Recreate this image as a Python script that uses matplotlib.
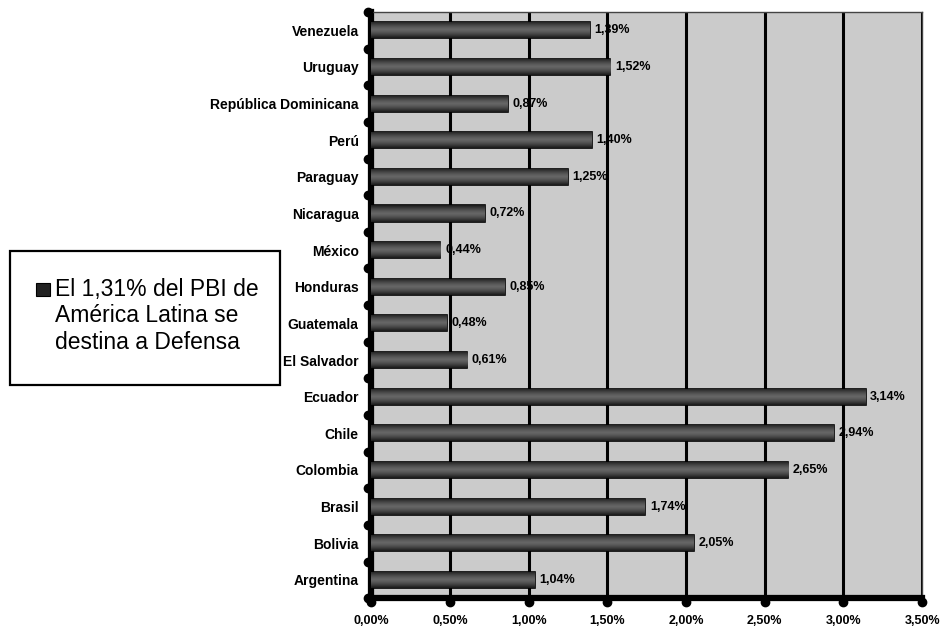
import numpy as np
import matplotlib.pyplot as plt
from matplotlib.patches import Rectangle

plt.rcParams['font.family'] = ['Liberation Sans', 'DejaVu Sans']

# data, bottom to top as drawn
countries = ['Argentina', 'Bolivia', 'Brasil', 'Colombia', 'Chile', 'Ecuador',
             'El Salvador', 'Guatemala', 'Honduras', 'México', 'Nicaragua',
             'Paraguay', 'Perú', 'República Dominicana', 'Uruguay', 'Venezuela']
values = [1.04, 2.05, 1.74, 2.65, 2.94, 3.14, 0.61, 0.48, 0.85, 0.44, 0.72,
          1.25, 1.40, 0.87, 1.52, 1.39]
xticks = [0.0, 0.5, 1.0, 1.5, 2.0, 2.5, 3.0, 3.5]
legend_text = 'El 1,31% del PBI de\nAmérica Latina se\ndestina a Defensa'


def pct(v):
    return ('%.2f%%' % v).replace('.', ',')


fig = plt.figure(figsize=(9.42, 6.31), dpi=100)
ax = fig.add_axes([0.394, 0.052, 0.585, 0.929])
ax.set_facecolor('#cbcbcb')

y = np.arange(len(countries))
bar_h = 0.44
bars = ax.barh(y, values, height=bar_h, color='#222222', edgecolor='black',
               linewidth=1.2, zorder=3)

# gradient fill: dark edges, lighter band in the middle
t = np.abs(np.linspace(-1, 1, 64)) ** 1.4
grad = (0.40 - 0.30 * t).reshape(-1, 1) * np.ones((1, 8))
for b, v, yy in zip(bars, values, y):
    im = ax.imshow(grad, cmap='gray', vmin=0, vmax=1, aspect='auto',
                   extent=[0, v, yy - bar_h / 2, yy + bar_h / 2], zorder=3.5,
                   interpolation='bilinear')
    im.set_clip_path(b)
    ax.text(v + 0.03, yy, pct(v), va='center', ha='left', fontsize=9,
            fontweight='bold', zorder=5)

ax.set_xlim(0, 3.5)
ax.set_ylim(-0.5, len(countries) - 0.5)

ax.set_xticks(xticks)
ax.set_xticklabels([pct(t) for t in xticks], fontsize=9, fontweight='bold')
ax.set_yticks(y)
ax.set_yticklabels(countries, fontsize=10, fontweight='bold')
ax.tick_params(axis='y', length=0, pad=9)
ax.tick_params(axis='x', length=0, pad=12)

ax.grid(axis='x', color='black', linewidth=2.2, zorder=1)
ax.set_axisbelow(True)

for side in ['top', 'right']:
    ax.spines[side].set_linewidth(1.0)
    ax.spines[side].set_color('#444444')
ax.spines['left'].set_linewidth(4.5)
ax.spines['bottom'].set_linewidth(4.5)

# round tick marks on the axes
bounds = np.arange(-0.5, len(countries))
ax.plot(np.zeros(len(bounds)) - 0.018, bounds, 'o', color='black', ms=6,
        clip_on=False, zorder=6)
ax.plot(xticks, np.zeros(len(xticks)) - 0.5 - 0.1, 'o', color='black', ms=6,
        clip_on=False, zorder=6)

# legend box
fig.patches.append(Rectangle((0.011, 0.39), 0.286, 0.213, transform=fig.transFigure,
                             facecolor='white', edgecolor='black', linewidth=1.6))
fig.patches.append(Rectangle((0.038, 0.531), 0.015, 0.021, transform=fig.transFigure,
                             facecolor='#222222', edgecolor='black', linewidth=0.8))
fig.text(0.058, 0.560, legend_text, ha='left', va='top', fontsize=16.5,
         linespacing=1.2)

fig.savefig('out.png', dpi=100, facecolor='white')
